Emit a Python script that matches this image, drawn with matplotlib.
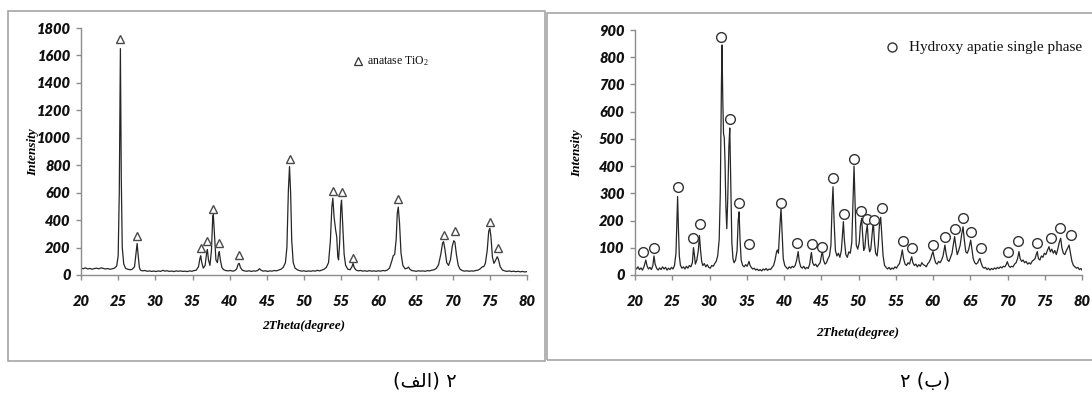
import matplotlib
matplotlib.use("Agg")
import matplotlib.pyplot as plt
from matplotlib.patches import Rectangle
from matplotlib.lines import Line2D

# ---------------- data ----------------
x_ticks = [20, 25, 30, 35, 40, 45, 50, 55, 60, 65, 70, 75, 80]
tio2_y_ticks = [0, 200, 400, 600, 800, 1000, 1200, 1400, 1600, 1800]
hap_y_ticks = [0, 100, 200, 300, 400, 500, 600, 700, 800, 900]

tio2_pattern = [
    (20.0, 50), (20.3, 46), (20.6, 52), (20.9, 44), (21.2, 48), (21.5, 42), (21.8, 47), (22.1, 50),
    (22.4, 45), (22.7, 52), (23.0, 48), (23.3, 44), (23.6, 47), (23.9, 42), (24.2, 45), (24.5, 50),
    (24.8, 65), (25.0, 140), (25.15, 600), (25.3, 1650), (25.42, 700), (25.55, 200), (25.75, 80),
    (26.0, 48), (26.3, 42), (26.6, 38), (26.9, 42), (27.2, 60), (27.4, 160), (27.55, 230), (27.68, 150),
    (27.85, 55), (28.0, 35), (28.3, 30), (28.6, 33), (28.9, 27), (29.2, 30), (29.5, 26), (29.8, 29),
    (30.1, 25), (30.4, 30), (30.7, 26), (31.0, 34), (31.3, 28), (31.6, 31), (31.9, 26), (32.2, 29),
    (32.5, 25), (32.8, 30), (33.1, 27), (33.4, 30), (33.7, 26), (34.0, 28), (34.3, 25), (34.6, 30),
    (34.9, 27), (35.2, 32), (35.5, 35), (35.8, 60), (36.0, 120), (36.1, 140), (36.25, 90), (36.45, 50),
    (36.7, 70), (36.9, 160), (37.0, 185), (37.15, 110), (37.35, 70), (37.55, 180), (37.72, 420),
    (37.8, 440), (37.95, 300), (38.15, 110), (38.35, 90), (38.5, 150), (38.6, 170), (38.75, 110),
    (38.95, 55), (39.2, 38), (39.5, 32), (39.8, 30), (40.1, 33), (40.4, 28), (40.7, 32), (40.95, 45),
    (41.15, 80), (41.28, 85), (41.45, 55), (41.7, 35), (42.0, 30), (42.3, 27), (42.6, 31), (42.9, 26),
    (43.2, 30), (43.5, 28), (43.8, 34), (44.0, 46), (44.2, 36), (44.5, 28), (44.8, 31), (45.1, 26),
    (45.4, 30), (45.7, 28), (46.0, 33), (46.3, 30), (46.6, 36), (46.9, 42), (47.2, 55), (47.5, 90),
    (47.7, 200), (47.9, 620), (48.05, 790), (48.2, 600), (48.35, 250), (48.55, 90), (48.8, 50),
    (49.1, 38), (49.4, 32), (49.7, 28), (50.0, 31), (50.3, 26), (50.6, 30), (50.9, 27), (51.2, 31),
    (51.5, 28), (51.8, 34), (52.1, 30), (52.4, 36), (52.7, 42), (53.0, 55), (53.3, 90), (53.55, 250),
    (53.75, 500), (53.88, 560), (54.05, 420), (54.25, 330), (54.4, 280), (54.55, 130), (54.65, 110),
    (54.8, 240), (54.95, 500), (55.05, 545), (55.2, 380), (55.4, 150), (55.6, 70), (55.9, 42),
    (56.2, 38), (56.45, 60), (56.6, 85), (56.75, 55), (57.0, 36), (57.3, 30), (57.6, 33), (57.9, 28),
    (58.2, 31), (58.5, 27), (58.8, 32), (59.1, 28), (59.4, 30), (59.7, 27), (60.0, 31), (60.3, 28),
    (60.6, 33), (60.9, 30), (61.2, 36), (61.5, 50), (61.8, 100), (62.0, 140), (62.2, 150), (62.4, 260),
    (62.55, 450), (62.68, 495), (62.85, 380), (63.05, 160), (63.3, 70), (63.6, 45), (63.9, 50),
    (64.05, 58), (64.25, 42), (64.5, 32), (64.8, 30), (65.1, 27), (65.4, 31), (65.7, 28), (66.0, 30),
    (66.3, 27), (66.6, 32), (66.9, 30), (67.2, 35), (67.5, 38), (67.8, 48), (68.1, 75), (68.4, 150),
    (68.65, 235), (68.78, 243), (68.95, 190), (69.2, 90), (69.45, 70), (69.7, 110), (69.95, 210),
    (70.15, 250), (70.3, 240), (70.5, 150), (70.75, 70), (71.0, 42), (71.3, 32), (71.6, 28), (71.9, 31),
    (72.2, 27), (72.5, 30), (72.8, 28), (73.1, 33), (73.4, 35), (73.7, 45), (74.0, 60), (74.2, 62),
    (74.4, 85), (74.65, 180), (74.85, 320), (75.0, 340), (75.15, 280), (75.35, 130), (75.55, 85),
    (75.8, 110), (76.0, 133), (76.15, 115), (76.4, 60), (76.7, 36), (77.0, 30), (77.3, 26), (77.6, 30),
    (77.9, 25), (78.2, 28), (78.5, 24), (78.8, 27), (79.1, 23), (79.4, 26), (79.7, 22), (80.0, 25),
]

tio2_marks = [
    (25.3, 1717), (27.6, 284), (36.1, 194), (37.0, 250), (37.8, 479), (38.6, 236), (41.3, 146),
    (48.05, 845), (53.9, 615), (55.1, 602), (56.6, 121), (62.7, 554), (68.8, 291), (70.3, 320),
    (75.0, 389), (76.05, 194),
]

hap_pattern = [
    (20.0, 28), (20.2, 22), (20.4, 30), (20.6, 20), (20.8, 26), (21.0, 18), (21.2, 30), (21.35, 45),
    (21.45, 55), (21.6, 35), (21.8, 22), (22.0, 28), (22.2, 20), (22.4, 35), (22.55, 70), (22.7, 40),
    (22.9, 25), (23.1, 18), (23.3, 26), (23.5, 20), (23.7, 30), (23.9, 22), (24.1, 28), (24.3, 18),
    (24.5, 25), (24.7, 20), (24.9, 28), (25.1, 22), (25.3, 35), (25.5, 80), (25.62, 200), (25.72, 288),
    (25.82, 180), (25.95, 70), (26.1, 35), (26.3, 25), (26.5, 30), (26.7, 22), (26.9, 32), (27.1, 25),
    (27.3, 35), (27.5, 30), (27.7, 45), (27.85, 100), (27.95, 80), (28.1, 40), (28.3, 55), (28.5, 90),
    (28.65, 145), (28.8, 90), (28.95, 50), (29.1, 35), (29.3, 42), (29.5, 30), (29.7, 38), (29.9, 28),
    (30.1, 25), (30.3, 35), (30.5, 32), (30.7, 42), (30.9, 50), (31.1, 70), (31.3, 130), (31.45, 300),
    (31.6, 700), (31.68, 845), (31.78, 650), (31.88, 520), (31.98, 505), (32.08, 420), (32.2, 250),
    (32.32, 170), (32.45, 280), (32.6, 470), (32.72, 540), (32.85, 350), (33.0, 120), (33.15, 60),
    (33.3, 45), (33.5, 55), (33.7, 90), (33.85, 200), (33.97, 232), (34.1, 130), (34.25, 55),
    (34.45, 35), (34.65, 30), (34.85, 38), (35.05, 32), (35.2, 42), (35.3, 50), (35.45, 35),
    (35.6, 28), (35.8, 22), (36.0, 25), (36.2, 18), (36.4, 22), (36.6, 16), (36.8, 20), (37.0, 15),
    (37.2, 22), (37.4, 18), (37.6, 24), (37.8, 17), (38.0, 22), (38.2, 20), (38.4, 28), (38.6, 35),
    (38.8, 55), (39.0, 85), (39.1, 92), (39.25, 80), (39.45, 180), (39.6, 245), (39.75, 150),
    (39.9, 60), (40.1, 35), (40.3, 28), (40.5, 22), (40.7, 30), (40.9, 25), (41.1, 32), (41.3, 28),
    (41.5, 35), (41.7, 55), (41.9, 86), (42.05, 50), (42.25, 30), (42.45, 25), (42.65, 32), (42.85, 22),
    (43.05, 28), (43.25, 24), (43.45, 40), (43.6, 70), (43.68, 82), (43.85, 45), (44.05, 35),
    (44.25, 40), (44.45, 30), (44.65, 38), (44.85, 45), (45.05, 75), (45.15, 86), (45.3, 55),
    (45.5, 40), (45.7, 45), (45.9, 60), (46.1, 70), (46.3, 110), (46.45, 250), (46.58, 324),
    (46.72, 200), (46.9, 90), (47.1, 70), (47.3, 80), (47.5, 65), (47.7, 90), (47.85, 150),
    (47.97, 196), (48.1, 130), (48.3, 75), (48.5, 65), (48.7, 85), (48.9, 80), (49.1, 120),
    (49.25, 260), (49.4, 400), (49.55, 250), (49.7, 110), (49.9, 95), (50.1, 120), (50.25, 180),
    (50.42, 208), (50.55, 150), (50.7, 90), (50.85, 100), (51.0, 150), (51.18, 184), (51.35, 110),
    (51.5, 85), (51.65, 95), (51.8, 140), (51.98, 196), (52.15, 120), (52.3, 80), (52.5, 70),
    (52.65, 110), (52.8, 180), (52.98, 212), (53.12, 150), (53.3, 70), (53.5, 35), (53.7, 28),
    (53.9, 22), (54.1, 28), (54.3, 20), (54.5, 26), (54.7, 22), (54.9, 30), (55.1, 25), (55.3, 35),
    (55.5, 42), (55.7, 65), (55.88, 92), (56.05, 60), (56.25, 40), (56.45, 35), (56.65, 45),
    (56.85, 40), (57.0, 55), (57.14, 67), (57.3, 45), (57.5, 35), (57.7, 40), (57.9, 30), (58.1, 38),
    (58.3, 32), (58.5, 45), (58.7, 38), (58.9, 35), (59.1, 30), (59.3, 42), (59.5, 48), (59.7, 60),
    (59.85, 75), (60.0, 86), (60.15, 65), (60.35, 45), (60.55, 40), (60.75, 50), (60.95, 45),
    (61.15, 55), (61.35, 70), (61.5, 95), (61.6, 110), (61.75, 80), (61.95, 55), (62.15, 50),
    (62.35, 65), (62.55, 80), (62.75, 115), (62.9, 141), (63.05, 110), (63.25, 75), (63.45, 90),
    (63.65, 110), (63.85, 150), (64.03, 177), (64.2, 130), (64.4, 85), (64.6, 80), (64.8, 95),
    (64.95, 115), (65.06, 128), (65.2, 100), (65.4, 60), (65.6, 45), (65.8, 40), (66.0, 45),
    (66.15, 55), (66.3, 61), (66.45, 45), (66.65, 30), (66.85, 25), (67.05, 28), (67.25, 20),
    (67.45, 25), (67.65, 18), (67.85, 24), (68.05, 20), (68.25, 26), (68.45, 22), (68.65, 28),
    (68.85, 24), (69.05, 30), (69.25, 26), (69.45, 32), (69.65, 30), (69.85, 40), (69.97, 49),
    (70.15, 35), (70.35, 28), (70.55, 32), (70.75, 30), (70.95, 40), (71.15, 45), (71.35, 60),
    (71.54, 86), (71.7, 60), (71.9, 50), (72.1, 55), (72.3, 45), (72.5, 50), (72.7, 40), (72.9, 45),
    (73.1, 40), (73.3, 50), (73.5, 55), (73.7, 60), (73.85, 75), (74.0, 86), (74.15, 60), (74.35, 55),
    (74.55, 70), (74.75, 65), (74.95, 80), (75.15, 75), (75.35, 90), (75.57, 104), (75.75, 85),
    (75.95, 95), (76.15, 80), (76.35, 90), (76.55, 75), (76.75, 95), (76.95, 120), (77.14, 135),
    (77.3, 100), (77.5, 80), (77.7, 75), (77.9, 90), (78.1, 100), (78.26, 110), (78.45, 80),
    (78.65, 50), (78.85, 35), (79.05, 30), (79.25, 25), (79.45, 28), (79.65, 20), (79.85, 24), (80.0, 18),
]

hap_marks = [
    (21.1, 86), (22.55, 100), (25.8, 324), (27.8, 135), (28.7, 187), (31.5, 875), (32.7, 572),
    (34.0, 266), (35.3, 114), (39.55, 266), (41.8, 119), (43.7, 114), (45.1, 104), (46.6, 355),
    (48.0, 223), (49.4, 425), (50.4, 235), (51.1, 206), (52.1, 202), (53.2, 245), (56.0, 126),
    (57.2, 100), (60.0, 110), (61.6, 141), (62.9, 169), (64.0, 208), (65.1, 159), (66.5, 98),
    (70.0, 86), (71.45, 125), (74.0, 116), (75.8, 135), (77.0, 171), (78.5, 147),
]

tio2_legend = "anatase TiO$\\mathregular{_2}$"
hap_legend = "Hydroxy apatie single phase"
x_label = "2Theta(degree)"
y_label = "Intensity"
caption_left = "(\uFED2\uFEDF\uFE8D) \u06F2"
caption_right = "\u06F2 (\uFE8F)"

# ---------------- figure ----------------
W, H = 1092, 395
fig = plt.figure(figsize=(W / 100, H / 100), dpi=100)


def fx(px):
    return px / W


def fy(py):
    return 1 - py / H


# outer frames
frame_col = "#a6a6a6"
fig.add_artist(Rectangle((fx(8), fy(361)), fx(545 - 8), (361 - 11) / H, transform=fig.transFigure,
                         fill=False, edgecolor=frame_col, lw=1.2))
fig.add_artist(Rectangle((fx(547), fy(360)), fx(1100 - 547), (360 - 13) / H, transform=fig.transFigure,
                         fill=False, edgecolor=frame_col, lw=1.2))

tick_family = ["Lato", "DejaVu Sans"]
serif = ["Liberation Serif", "DejaVu Serif"]
plt.rcParams["mathtext.fontset"] = "custom"
plt.rcParams["mathtext.rm"] = "Liberation Serif"


def style_axes(ax, yticks, ymax):
    ax.set_xlim(20, 80)
    ax.set_ylim(0, ymax)
    ax.set_xticks(x_ticks)
    ax.set_yticks(yticks)
    for s in ("top", "right"):
        ax.spines[s].set_visible(False)
    for s in ("left", "bottom"):
        ax.spines[s].set_color("#8c8c8c")
        ax.spines[s].set_linewidth(1.0)
    ax.tick_params(axis="both", colors="#8c8c8c", length=3.5, width=1.0, labelcolor="#111111")
    ax.tick_params(axis="x", pad=11)
    ax.tick_params(axis="y", pad=4)
    for lab in ax.get_xticklabels() + ax.get_yticklabels():
        lab.set_fontfamily(tick_family)
        lab.set_fontweight("heavy")
        lab.set_fontstyle("italic")
        lab.set_fontsize(10.5)
    ax.set_facecolor("none")


# left panel
ax1 = fig.add_axes([fx(81), fy(275), fx(527 - 81), (275 - 28) / H])
tx, ty = zip(*tio2_pattern)
ax1.plot(tx, ty, color="#262626", lw=0.9)
mx, my = zip(*tio2_marks)
ax1.plot(mx, my, linestyle="none", marker="^", ms=6, mfc="white", mec="#4a4a4a", mew=1.0, clip_on=False)
style_axes(ax1, tio2_y_ticks, 1800)

# right panel
ax2 = fig.add_axes([fx(635), fy(275), fx(1082 - 635), (275 - 30) / H])
hx, hy = zip(*hap_pattern)
ax2.plot(hx, hy, color="#262626", lw=0.9)
cx, cy = zip(*hap_marks)
ax2.plot(cx, cy, linestyle="none", marker="o", ms=7, mfc="white", mec="#333333", mew=1.0, clip_on=False)
style_axes(ax2, hap_y_ticks, 900)

# axis labels
label_kw = dict(family=serif, weight="bold", style="italic", size=9.5, color="black")
fig.text(fx(304), fy(326), x_label, ha="center", va="center", **label_kw)
fig.text(fx(858), fy(333), x_label, ha="center", va="center", **label_kw)
fig.text(fx(33), fy(152), y_label, ha="center", va="center", rotation=90, **label_kw)
fig.text(fx(577), fy(153), y_label, ha="center", va="center", rotation=90, **label_kw)

# legends
fig.add_artist(Line2D([fx(358)], [fy(61)], transform=fig.transFigure, marker="^", ms=6,
                      mfc="white", mec="#333333", mew=0.9, linestyle="none"))
fig.text(fx(367), fy(61), tio2_legend, ha="left", va="center", family=serif, size=8.5, color="#111111")
fig.add_artist(Line2D([fx(892)], [fy(47)], transform=fig.transFigure, marker="o", ms=6.5,
                      mfc="white", mec="#333333", mew=1.0, linestyle="none"))
fig.text(fx(909), fy(47), hap_legend, ha="left", va="center", family=serif, size=11, color="#111111")

# captions
fig.text(fx(425), fy(381), caption_left, ha="center", va="center", size=14,
         family=["DejaVu Sans", "Noto Sans"], color="black")
fig.text(fx(925), fy(381), caption_right, ha="center", va="center", size=14,
         family=["DejaVu Sans", "Noto Sans"], color="black")

fig.savefig("out.png", dpi=100)
